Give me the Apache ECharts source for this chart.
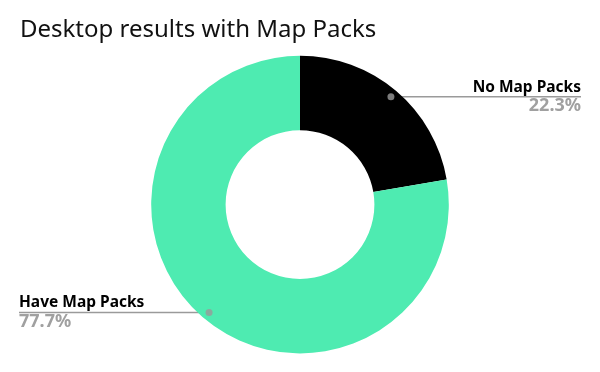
<!DOCTYPE html>
<html><head><meta charset="utf-8">
<script src="https://cdn.jsdelivr.net/npm/echarts@6/dist/echarts.min.js"></script>
<style>html,body{margin:0;padding:0;background:#fff}#c{width:600px;height:372px}</style>
</head><body><div id="c"></div>
<script>
const titleText = 'Desktop results with Map Packs';
const categories = ['No Map Packs', 'Have Map Packs'];
const values = [22.3, 77.7];
const colors = ['#000000', '#4EEBB1'];

const total = values.reduce((a, b) => a + b, 0);
let cum = 0;
const dotData = values.map(v => { const mid = cum + v / 2; cum += v; return [0.948, mid / total * 100]; });

const chart = echarts.init(document.getElementById('c'));
const CENTER = ['50%', '55%'];
const EDGE = 19;
const F = '"Noto Sans", "Open Sans", sans-serif';

chart.setOption({
  animation: false,
  title: { text: titleText, left: 15, top: 13, textStyle: { fontFamily: F, fontSize: 24, fontWeight: 'normal', color: '#111' } },
  polar: { center: CENTER, radius: '80%' },
  angleAxis: { type: 'value', min: 0, max: 100, startAngle: 90, clockwise: true, show: false },
  radiusAxis: { type: 'value', min: 0, max: 1, show: false },
  series: [{
    type: 'pie',
    center: CENTER,
    radius: ['40%', '80%'],
    startAngle: 90,
    clockwise: true,
    data: categories.map((n, i) => ({ name: n, value: values[i], itemStyle: { color: colors[i] } })),
    label: {
      formatter: p => '{n|' + p.name + '}\n{v|' + p.value.toFixed(1) + '%}',
      rich: {
        n: { fontFamily: F, fontSize: 15.5, fontWeight: 'bold', color: '#000', lineHeight: 19 },
        v: { fontFamily: F, fontSize: 18, fontWeight: 'bold', color: '#a0a0a0', lineHeight: 19 }
      }
    },
    labelLine: { show: true, length: 10, length2: 10, lineStyle: { color: '#9a9a9a', width: 1.5 } },
    labelLayout: function (params) {
      const W = chart.getWidth(), H = chart.getHeight();
      const cx = W * 0.5, cy = H * 0.55;
      const p = params.labelLinePoints;
      const dx = cx + (p[0][0] - cx) * 0.948, dy = cy + (p[0][1] - cy) * 0.948;
      const isLeft = dx < cx;
      const ex = isLeft ? EDGE : W - EDGE;
      return {
        x: ex, y: dy, align: isLeft ? 'left' : 'right', verticalAlign: 'middle',
        labelLinePoints: [[dx, dy], [dx, dy], [ex, dy]]
      };
    },
    emphasis: { disabled: true }
  }, {
    type: 'scatter',
    coordinateSystem: 'polar',
    data: dotData,
    symbolSize: 7,
    itemStyle: { color: '#9a9a9a' },
    z: 5,
    silent: true
  }]
});
</script></body></html>
